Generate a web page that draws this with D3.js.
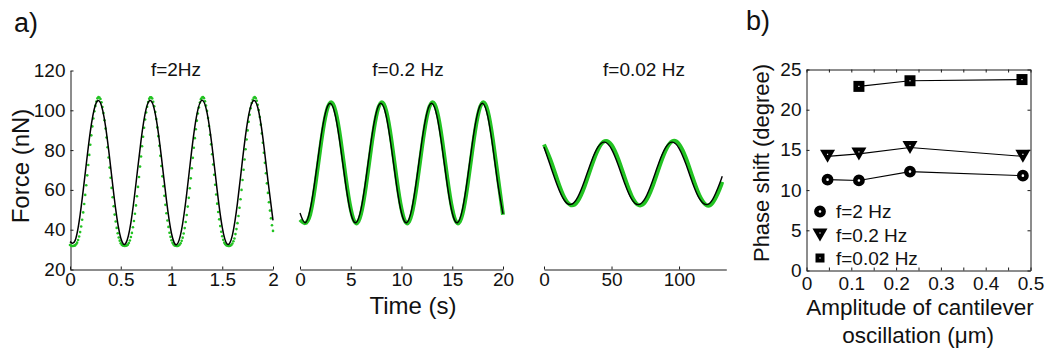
<!DOCTYPE html>
<html lang="en">
<head>
<meta charset="utf-8">
<title>Force and phase shift</title>
<script src="https://cdn.jsdelivr.net/npm/d3@7"></script>
<style>
    body { margin: 0; background: #fff; }
    svg text { font-family: "Liberation Sans", Arial, Helvetica, sans-serif; fill: #111; }
</style>
</head>
<body>
<svg width="1051" height="354"></svg>
<script>
// ---- panel a1 : f = 2 Hz, measured force (dots, every 0.01 s) and fit (every 0.05 s)
var a1Step = 0.01;
var a1Green = [
    32.3, 32.0, 31.8, 31.8, 31.9, 32.1, 32.7, 33.5, 34.8, 36.6,
    38.8, 41.6, 45.0, 48.7, 52.9, 57.5, 62.3, 67.3, 72.5, 77.6,
    82.7, 87.4, 91.9, 95.9, 99.5, 102.2, 104.4, 106.0, 106.6, 106.4,
    105.7, 104.0, 101.6, 98.6, 95.0, 90.8, 86.3, 81.4, 76.3, 71.2,
    66.1, 61.0, 56.3, 51.8, 47.6, 44.1, 40.9, 38.2, 36.1, 34.5,
    33.2, 32.4, 32.1, 31.9, 31.8, 31.9, 32.1, 32.5, 33.3, 34.6,
    36.3, 38.4, 41.2, 44.4, 48.0, 52.2, 56.8, 61.5, 66.5, 71.7,
    76.8, 81.9, 86.7, 91.2, 95.4, 98.9, 101.8, 104.2, 105.8, 106.5,
    106.5, 105.9, 104.3, 102.0, 99.1, 95.6, 91.4, 87.0, 82.2, 77.1,
    72.0, 66.8, 61.8, 57.0, 52.5, 48.3, 44.6, 41.4, 38.5, 36.4,
    34.7, 33.4, 32.6, 32.1, 31.9, 31.8, 31.8, 32.0, 32.4, 33.2,
    34.4, 36.0, 38.1, 40.8, 43.9, 47.4, 51.6, 56.0, 60.8, 65.8,
    70.9, 76.1, 81.2, 86.0, 90.5, 94.8, 98.4, 101.4, 103.9, 105.6,
    106.4, 106.6, 106.1, 104.5, 102.4, 99.7, 96.1, 92.1, 87.7, 82.9,
    77.9, 72.8, 67.6, 62.6, 57.7, 53.1, 48.9, 45.2, 41.8, 39.0,
    36.7, 34.9, 33.5, 32.7, 32.2, 31.9, 31.8, 31.8, 32.0, 32.3,
    33.1, 34.2, 35.6, 37.8, 40.3, 43.3, 46.9, 51.0, 55.3, 60.0,
    65.0, 70.1, 75.3, 80.4, 85.3, 89.9, 94.2, 97.8, 101.0, 103.7,
    105.3, 106.3, 106.7, 106.1, 104.8, 102.8, 100.1, 96.6, 92.8, 88.4,
    83.7, 78.7, 73.6, 68.4, 63.3, 58.5, 53.8, 49.6, 45.7, 42.2,
    39.4
];
var a1FitStep = 0.05;
var a1Fit = [
    34.0, 34.5, 47.6, 68.4, 89.3, 102.7, 103.8, 92.0, 71.7, 50.3,
    35.8, 33.2, 43.6, 63.2, 84.9, 100.7, 104.7, 95.6, 76.7, 55.0,
    38.1, 32.5, 40.2, 58.2, 80.2, 97.9, 105.0, 98.8, 81.7, 59.8,
    41.2, 32.7, 37.3, 53.5, 75.3, 94.6, 104.5, 101.4, 86.3, 64.8,
    44.7
];

// ---- panel a2 : f = 0.2 Hz, every 0.5 s
var a2Step = 0.5;
var a2Green = [
    45.0, 43.3, 47.7, 62.1, 80.8, 96.8, 103.9, 99.5, 85.2, 66.4,
    50.4, 43.3, 47.7, 62.1, 80.8, 96.8, 103.9, 99.5, 85.2, 66.4,
    50.4, 43.3, 47.7, 62.1, 80.8, 96.8, 103.9, 99.5, 85.2, 66.4,
    50.4, 43.3, 47.7, 62.1, 80.8, 96.8, 103.9, 99.5, 85.2, 66.4,
    47.5
];
var a2Fit = [
    48.4, 43.5, 50.1, 65.7, 84.2, 98.6, 103.5, 96.9, 81.3, 62.8,
    48.4, 43.5, 50.1, 65.7, 84.2, 98.6, 103.5, 96.9, 81.3, 62.8,
    48.4, 43.5, 50.1, 65.7, 84.2, 98.6, 103.5, 96.9, 81.3, 62.8,
    48.4, 43.5, 50.1, 65.7, 84.2, 98.6, 103.5, 96.9, 81.3, 62.8,
    48.0
];

// ---- panel a3 : f = 0.02 Hz
var a3Time = [0, 5, 10, 15, 20, 25, 30, 35, 40, 45, 50, 55, 60, 65, 70,
    75, 80, 85, 90, 95, 100, 105, 110, 115, 120, 125, 130, 132];
var a3Green = [82.8, 74.7, 64.8, 56.2, 52.3, 54.4, 61.7, 71.6, 80.3, 84.5,
    82.6, 75.4, 65.6, 56.8, 52.4, 54.0, 61.0, 70.8, 79.7, 84.4,
    83.0, 76.2, 66.4, 57.4, 52.5, 53.6, 60.3, 64.0];
var a3Fit = [81.5, 71.6, 62.0, 54.8, 52.7, 56.4, 64.6, 74.2, 81.6, 84.0,
    80.5, 72.4, 62.8, 55.2, 52.6, 55.9, 63.9, 73.5, 81.2, 84.0,
    80.9, 73.1, 63.5, 55.7, 52.6, 55.4, 63.1, 66.9];

var forceTicks = [20, 40, 60, 80, 100, 120];
var a1Ticks = [0, 0.5, 1, 1.5, 2];
var a2Ticks = [0, 5, 10, 15, 20];
var a3Ticks = [0, 50, 100];
var aTitles = ["f=2Hz", "f=0.2 Hz", "f=0.02 Hz"];

// ---- panel b : phase shift vs amplitude
var amp2Hz = [0.047, 0.117, 0.231, 0.483];
var phase2Hz = [11.3, 11.2, 12.3, 11.8];
var amp02Hz = [0.047, 0.117, 0.231, 0.483];
var phase02Hz = [14.2, 14.5, 15.3, 14.2];
var amp002Hz = [0.117, 0.231, 0.481];
var phase002Hz = [22.9, 23.6, 23.75];
var bLegend = ["f=2 Hz", "f=0.2 Hz", "f=0.02 Hz"];
var bXTicks = [0, 0.05, 0.1, 0.15, 0.2, 0.25, 0.3, 0.35, 0.4, 0.45, 0.5];
var bYTicks = [0, 5, 10, 15, 20, 25];

var svg = d3.select("svg");
var green = "#22c322";

function styleAxis(g) {
    g.attr("font-size", null).attr("font-family", null);
    g.selectAll("path.domain").attr("stroke", "#1a1a1a");
    g.selectAll(".tick line").attr("stroke", "#1a1a1a");
    g.selectAll("text").style("font-size", "19px").attr("fill", "#111");
}

// ---------------- panel a ----------------
var yF = d3.scaleLinear().domain([20, 120]).range([269.5, 70.5]);
var x1 = d3.scaleLinear().domain([0, 2]).range([70, 273]);
var x2 = d3.scaleLinear().domain([0, 20]).range([300, 503]);
var x3 = d3.scaleLinear().domain([0, 135]).range([544, 726.3]);

svg.append("g").attr("transform", "translate(70.5,0)")
    .call(d3.axisLeft(yF).tickValues(forceTicks).tickSizeInner(-3).tickSizeOuter(0).tickPadding(5))
    .call(styleAxis);

[[x1, a1Ticks], [x2, a2Ticks], [x3, a3Ticks]].forEach(function(p) {
    svg.append("g").attr("transform", "translate(0,269.5)")
        .call(d3.axisBottom(p[0]).tickValues(p[1]).tickFormat(d3.format("")).tickSizeInner(-3).tickSizeOuter(0).tickPadding(3))
        .call(styleAxis);
});

// a1 : dots + fit
svg.append("g").selectAll("circle")
    .data(a1Green)
    .enter().append("circle")
    .attr("cx", (d, i) => x1(i * a1Step))
    .attr("cy", d => yF(d))
    .attr("r", 1.3)
    .attr("fill", green);

function drawFit(xs, ts, vals, width, color) {
    var line = d3.line()
        .x((d, i) => xs(ts[i]))
        .y(d => yF(d))
        .curve(d3.curveNatural);
    svg.append("path").datum(vals)
        .attr("d", line)
        .attr("fill", "none")
        .attr("stroke", color)
        .attr("stroke-width", width)
        .attr("stroke-linejoin", "round");
}

var a1FitT = a1Fit.map((d, i) => i * a1FitStep);
drawFit(x1, a1FitT, a1Fit, 1.5, "#000");

// a2
var a2T = a2Fit.map((d, i) => i * a2Step);
drawFit(x2, a2T, a2Green, 4, green);
drawFit(x2, a2T, a2Fit, 1.4, "#000");

// a3
drawFit(x3, a3Time, a3Green, 4, green);
drawFit(x3, a3Time, a3Fit, 1.4, "#000");

// titles and labels
var titleX = [176, 408, 644];
aTitles.forEach(function(t, i) {
    svg.append("text").attr("x", titleX[i]).attr("y", 76)
        .attr("text-anchor", "middle").style("font-size", "19px").text(t);
});

svg.append("text").attr("transform", "translate(29,166) rotate(-90)")
    .attr("text-anchor", "middle").style("font-size", "24px").text("Force (nN)");
svg.append("text").attr("x", 413).attr("y", 313.5)
    .attr("text-anchor", "middle").style("font-size", "24px").text("Time (s)");
svg.append("text").attr("x", 14).attr("y", 32).style("font-size", "27px").text("a)");

// ---------------- panel b ----------------
var xb = d3.scaleLinear().domain([0, 0.5]).range([806.5, 1030.5]);
var yb = d3.scaleLinear().domain([0, 25]).range([270.5, 69.5]);

var fmtB = function(d) {
    var k = Math.round(d * 100);
    return k % 10 === 0 ? String(k / 100) : "";
};

svg.append("g").attr("transform", "translate(0,270.5)")
    .call(d3.axisBottom(xb).tickValues(bXTicks).tickFormat(fmtB).tickSizeInner(-3).tickSizeOuter(0).tickPadding(6))
    .call(styleAxis);
svg.append("g").attr("transform", "translate(0,69.5)")
    .call(d3.axisTop(xb).tickValues(bXTicks).tickFormat("").tickSizeInner(-3).tickSizeOuter(0))
    .call(styleAxis);
svg.append("g").attr("transform", "translate(806.5,0)")
    .call(d3.axisLeft(yb).tickValues(bYTicks).tickSizeInner(-3).tickSizeOuter(0).tickPadding(5))
    .call(styleAxis);
svg.append("g").attr("transform", "translate(1030.5,0)")
    .call(d3.axisRight(yb).tickValues(bYTicks).tickFormat("").tickSizeInner(-3).tickSizeOuter(0))
    .call(styleAxis);

var bSeries = [
    { xs: amp2Hz, ys: phase2Hz, mark: "circle" },
    { xs: amp02Hz, ys: phase02Hz, mark: "tri" },
    { xs: amp002Hz, ys: phase002Hz, mark: "square" }
];

var lineB = d3.line().x(d => xb(d[0])).y(d => yb(d[1]));

function marker(g, kind, cx, cy, small) {
    if (kind === "circle") {
        g.append("circle").attr("cx", cx).attr("cy", cy).attr("r", 3.6)
            .attr("fill", "#fff").attr("stroke", "#000").attr("stroke-width", 4.6);
    } else if (kind === "tri") {
        var w = 7.5, h = 6.5;
        g.append("path")
            .attr("d", "M" + (cx - w) + "," + (cy - h) + "L" + (cx + w) + "," + (cy - h) + "L" + cx + "," + (cy + h) + "Z")
            .attr("fill", "#000");
        g.append("rect").attr("x", cx - 0.6).attr("y", cy - 2.6).attr("width", 1.2).attr("height", 1.2).attr("fill", "#fff");
    } else {
        var s = small ? 4.5 : 5.5;
        g.append("rect").attr("x", cx - s).attr("y", cy - s).attr("width", 2 * s).attr("height", 2 * s).attr("fill", "#000");
        g.append("rect").attr("x", cx - 0.6).attr("y", cy - 0.6).attr("width", 1.2).attr("height", 1.2).attr("fill", "#fff");
    }
}

bSeries.forEach(function(s) {
    var pts = s.xs.map((x, i) => [x, s.ys[i]]);
    svg.append("path").datum(pts).attr("d", lineB)
        .attr("fill", "none").attr("stroke", "#000").attr("stroke-width", 1.1);
    var g = svg.append("g");
    pts.forEach(function(p) { marker(g, s.mark, xb(p[0]), yb(p[1]), false); });
});

// legend
var legY = [211.5, 235, 258];
bLegend.forEach(function(t, i) {
    var g = svg.append("g");
    marker(g, bSeries[i].mark, 820, legY[i], true);
    g.append("text").attr("x", 836).attr("y", legY[i] + 6.8)
        .style("font-size", "19px").text(t);
});

svg.append("text").attr("transform", "translate(769,163) rotate(-90)")
    .attr("text-anchor", "middle").style("font-size", "22px").text("Phase shift (degree)");
svg.append("text").attr("x", 920).attr("y", 315)
    .attr("text-anchor", "middle").style("font-size", "22.5px").text("Amplitude of cantilever");
svg.append("text").attr("x", 918).attr("y", 343)
    .attr("text-anchor", "middle").style("font-size", "22.5px").text("oscillation (\u03bcm)");
svg.append("text").attr("x", 746).attr("y", 30).style("font-size", "27px").text("b)");
</script>
</body>
</html>
